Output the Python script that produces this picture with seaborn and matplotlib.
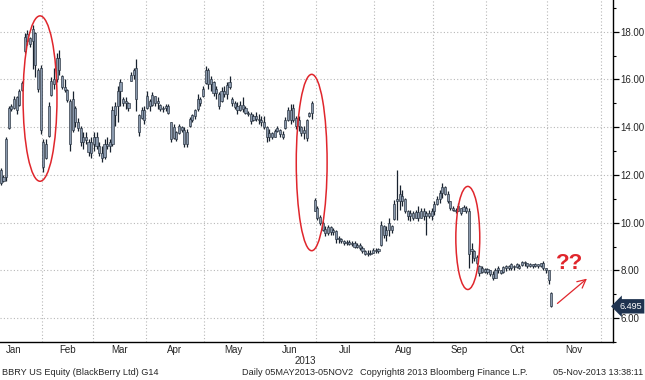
import numpy as np
import pandas as pd
import matplotlib
matplotlib.use("Agg")
import matplotlib.pyplot as plt
import matplotlib.transforms as mtransforms
from matplotlib.patches import Ellipse
import seaborn as sns

# daily bars (open, high, low, close), one list per month
jan_ohlc = [(12.20, 12.27, 11.56, 11.65), (11.75, 12.00, 11.70, 11.92), (11.90, 13.60, 11.75, 13.50),
            (13.95, 14.89, 13.93, 14.80), (14.90, 14.97, 14.68, 14.75), (14.80, 15.30, 14.76, 15.20),
            (15.25, 15.30, 14.55, 14.70), (14.95, 15.60, 14.90, 15.50), (15.55, 15.92, 15.50, 15.85),
            (17.20, 17.96, 17.13, 17.80), (17.60, 18.08, 17.46, 17.90), (17.75, 17.80, 17.38, 17.50),
            (17.60, 18.29, 16.42, 18.10), (17.95, 18.00, 16.10, 16.60), (16.40, 16.50, 15.47, 15.60),
            (16.50, 16.60, 13.70, 13.90)]
feb_ohlc = [(13.40, 13.51, 12.14, 12.35), (12.70, 13.51, 12.68, 13.30), (13.65, 15.05, 13.60, 14.90),
            (15.35, 16.10, 15.30, 15.95), (16.00, 16.50, 15.60, 15.80), (16.00, 17.10, 15.90, 16.90),
            (16.90, 17.25, 16.20, 16.40), (16.15, 16.20, 15.60, 15.70), (15.70, 16.00, 15.47, 15.55),
            (15.55, 15.60, 15.05, 15.15), (15.10, 15.20, 13.00, 13.30), (13.90, 15.50, 13.80, 15.20),
            (14.80, 14.90, 14.00, 14.20), (14.20, 14.40, 13.85, 13.95), (13.95, 14.05, 13.20, 13.40),
            (13.40, 13.80, 13.10, 13.60), (13.60, 13.80, 13.30, 13.45), (13.40, 13.50, 12.80, 12.95),
            (12.90, 13.60, 12.70, 13.40)]
mar_ohlc = [(13.30, 13.80, 13.00, 13.60), (13.60, 13.80, 13.10, 13.20), (13.20, 13.40, 12.80, 12.90),
            (12.90, 13.20, 12.55, 12.70), (12.75, 13.50, 12.68, 13.30), (13.30, 13.60, 13.10, 13.20),
            (13.20, 13.51, 12.98, 13.40), (13.30, 14.90, 13.20, 14.70), (14.50, 15.05, 14.05, 14.90),
            (14.90, 15.72, 14.22, 15.50), (15.50, 16.01, 14.89, 15.90), (15.20, 15.26, 14.89, 15.00),
            (15.00, 15.26, 14.76, 15.10), (15.00, 15.05, 14.68, 14.80), (15.95, 16.30, 15.92, 16.20),
            (16.20, 16.50, 16.00, 16.40), (16.50, 16.84, 14.68, 15.20), (14.50, 14.55, 13.64, 13.80),
            (14.40, 14.84, 14.35, 14.70), (14.70, 14.89, 14.14, 14.30)]
apr_ohlc = [(14.80, 15.51, 14.76, 15.30), (15.10, 15.18, 14.68, 14.90), (14.95, 15.47, 14.89, 15.35),
            (15.30, 15.30, 14.89, 15.00), (15.00, 15.26, 14.76, 15.10), (14.95, 14.97, 14.68, 14.75),
            (14.75, 14.89, 14.64, 14.80), (14.80, 14.97, 14.68, 14.90), (14.90, 14.97, 14.55, 14.60),
            (14.20, 14.22, 13.39, 13.50), (13.55, 14.14, 13.51, 14.00), (13.80, 13.85, 13.43, 13.50),
            (13.75, 14.14, 13.72, 14.05), (14.00, 14.05, 13.81, 13.90), (13.90, 14.01, 13.18, 13.30),
            (13.30, 13.93, 13.18, 13.80), (14.05, 14.43, 14.01, 14.35), (14.30, 14.55, 14.22, 14.50),
            (14.45, 14.76, 14.35, 14.70), (14.75, 15.38, 14.68, 15.20), (15.20, 15.26, 14.89, 15.00),
            (15.30, 15.72, 15.26, 15.60)]
may_ohlc = [(15.85, 16.55, 15.80, 16.40), (16.40, 16.50, 15.59, 15.80), (15.80, 16.13, 15.51, 16.00),
            (15.90, 15.92, 15.30, 15.45), (15.45, 15.72, 15.18, 15.60), (15.40, 15.47, 14.76, 14.90),
            (15.10, 15.67, 15.05, 15.50), (15.50, 15.72, 15.26, 15.40), (15.40, 15.88, 15.18, 15.75),
            (15.70, 16.13, 15.59, 15.90), (15.20, 15.26, 14.89, 15.00), (15.00, 15.09, 14.76, 14.85),
            (14.90, 15.05, 14.55, 14.70), (14.70, 15.09, 14.68, 14.95), (14.95, 15.26, 14.64, 14.75),
            (14.80, 14.89, 14.55, 14.60), (14.60, 14.68, 14.47, 14.55), (14.55, 14.64, 14.14, 14.25),
            (14.30, 14.55, 14.26, 14.45), (14.45, 14.64, 14.26, 14.35), (14.35, 14.55, 14.14, 14.30),
            (14.30, 14.47, 14.05, 14.20)]
jun_ohlc = [(14.20, 14.47, 13.93, 14.00), (14.00, 14.05, 13.39, 13.60), (13.60, 13.93, 13.43, 13.75),
            (13.75, 13.81, 13.51, 13.60), (13.60, 13.93, 13.60, 13.85), (13.85, 14.05, 13.81, 13.95),
            (13.90, 13.93, 13.60, 13.70), (13.70, 13.85, 13.51, 13.60), (13.95, 14.43, 13.93, 14.30),
            (14.30, 14.84, 14.26, 14.70), (14.70, 14.97, 14.14, 14.30), (14.30, 14.97, 14.22, 14.80),
            (14.40, 14.47, 13.93, 14.05), (14.05, 14.47, 13.85, 14.30), (14.00, 14.05, 13.64, 13.75),
            (13.75, 14.05, 13.51, 13.90), (14.30, 14.35, 13.43, 13.55), (14.45, 14.64, 14.43, 14.60),
            (14.60, 15.09, 14.35, 15.00), (10.95, 11.02, 10.48, 10.50)]
jul_ohlc = [(10.60, 10.69, 10.11, 10.20), (10.25, 10.32, 9.90, 10.00), (10.00, 10.07, 9.65, 9.70),
            (9.75, 9.86, 9.45, 9.55), (9.55, 9.90, 9.49, 9.80), (9.80, 9.86, 9.49, 9.60),
            (9.60, 9.78, 9.49, 9.70), (9.65, 9.70, 9.15, 9.30), (9.30, 9.45, 9.15, 9.35),
            (9.30, 9.36, 9.15, 9.25), (9.25, 9.28, 9.07, 9.15), (9.15, 9.28, 9.07, 9.20),
            (9.20, 9.28, 9.07, 9.10), (9.10, 9.24, 9.03, 9.15), (9.15, 9.24, 8.95, 9.00),
            (9.00, 9.15, 8.95, 9.05), (9.05, 9.15, 8.86, 8.95), (8.95, 9.03, 8.74, 8.80),
            (8.80, 8.86, 8.66, 8.70), (8.70, 8.86, 8.61, 8.75), (8.75, 8.86, 8.66, 8.70),
            (8.75, 8.95, 8.74, 8.85)]
aug_ohlc = [(8.85, 8.95, 8.74, 8.80), (8.80, 8.95, 8.74, 8.90), (9.05, 10.07, 9.03, 9.90),
            (9.85, 9.90, 9.36, 9.50), (9.50, 9.86, 9.24, 9.70), (9.70, 10.19, 9.45, 10.00),
            (9.85, 9.90, 9.57, 9.70), (10.15, 10.94, 10.11, 10.80), (10.90, 12.19, 10.11, 11.00),
            (11.20, 11.56, 10.52, 10.90), (10.90, 11.36, 10.69, 11.10), (11.00, 11.02, 10.40, 10.50),
            (10.50, 10.52, 10.11, 10.30), (10.30, 10.52, 10.07, 10.40), (10.40, 10.48, 10.11, 10.20),
            (10.20, 10.52, 10.19, 10.45), (10.45, 10.69, 10.07, 10.20), (10.20, 10.61, 10.19, 10.50),
            (10.50, 10.61, 10.11, 10.30), (10.30, 10.48, 9.49, 10.40), (10.40, 10.52, 10.19, 10.30),
            (10.30, 10.61, 10.11, 10.50)]
sep_ohlc = [(10.50, 10.90, 10.32, 10.80), (10.80, 11.11, 10.73, 11.00), (11.00, 11.36, 10.82, 11.25),
            (11.25, 11.65, 11.02, 11.50), (11.50, 11.52, 11.15, 11.20), (11.20, 11.31, 10.82, 10.90),
            (10.90, 10.90, 10.52, 10.60), (10.60, 10.69, 10.48, 10.55), (10.55, 10.61, 10.40, 10.50),
            (10.50, 10.82, 10.48, 10.70), (10.60, 10.61, 10.32, 10.40), (10.50, 10.73, 10.48, 10.65),
            (10.60, 10.69, 10.40, 10.50), (10.50, 10.61, 8.12, 8.70), (8.90, 9.15, 8.32, 8.80),
            (8.80, 8.86, 8.41, 8.50), (8.55, 8.66, 8.24, 8.30), (8.20, 8.24, 7.78, 7.90),
            (7.95, 8.20, 7.91, 8.10), (8.05, 8.12, 7.91, 7.95)]
oct_ohlc = [(7.95, 8.12, 7.83, 8.05), (8.00, 8.03, 7.78, 7.85), (7.85, 7.99, 7.58, 7.70),
            (7.70, 8.12, 7.70, 8.00), (8.00, 8.20, 7.91, 8.10), (8.00, 8.03, 7.83, 7.90),
            (7.95, 8.20, 7.91, 8.15), (8.10, 8.24, 7.99, 8.20), (8.20, 8.24, 8.03, 8.10),
            (8.10, 8.32, 8.03, 8.25), (8.20, 8.24, 8.03, 8.15), (8.15, 8.32, 8.12, 8.28),
            (8.20, 8.26, 8.05, 8.10), (8.22, 8.41, 8.20, 8.35), (8.35, 8.41, 8.20, 8.30),
            (8.30, 8.32, 8.12, 8.20), (8.20, 8.32, 8.14, 8.28), (8.25, 8.28, 8.12, 8.18),
            (8.18, 8.32, 8.14, 8.25), (8.25, 8.28, 8.12, 8.20), (8.20, 8.32, 8.16, 8.30),
            (8.30, 8.41, 8.03, 8.10), (8.10, 8.12, 7.91, 8.00)]
nov_ohlc = [(8.00, 8.03, 7.41, 7.60), (7.05, 7.08, 6.45, 6.50)]

first_day = "2013-01-09"
holidays = ["2013-01-01", "2013-01-21", "2013-02-18", "2013-03-29", "2013-05-27",
            "2013-07-04", "2013-09-02", "2013-11-28", "2013-12-25"]
month_names = ["Jan", "Feb", "Mar", "Apr", "May", "Jun", "Jul", "Aug", "Sep", "Oct", "Nov"]
price_ticks = [6, 8, 10, 12, 14, 16, 18]
last_price = 6.495

# trading-day calendar: the x axis counts sessions, not calendar days
calendar = pd.bdate_range("2013-01-02", "2013-12-31")
calendar = calendar[~calendar.isin(pd.to_datetime(holidays))]
pos = pd.Series(np.arange(len(calendar)), index=calendar)

rows = jan_ohlc + feb_ohlc + mar_ohlc + apr_ohlc + may_ohlc + jun_ohlc + jul_ohlc + aug_ohlc + sep_ohlc + oct_ohlc + nov_ohlc
bars = pd.DataFrame(rows, columns=["open", "high", "low", "close"])
bars["date"] = calendar[calendar >= first_day][:len(bars)]
bars["x"] = pos[bars["date"]].values
bars["body_lo"] = bars[["open", "close"]].min(axis=1)
bars["body_h"] = (bars["open"] - bars["close"]).abs().clip(lower=0.03)

month_idx = np.asarray(calendar.month)
starts = np.flatnonzero(np.diff(month_idx) != 0) + 1
bounds = np.r_[-0.5, starts - 0.5, len(calendar) - 0.5]
mids = (bounds[:-1] + bounds[1:]) / 2

sns.set_theme(style="white")
plt.rcParams["font.family"] = ["Liberation Sans", "DejaVu Sans"]

red = "#e0262c"
wick = "#18222f"
body = "#8a99ad"

fig = plt.figure(figsize=(6.45, 3.8), dpi=100)
ax = fig.add_axes([0.0, 0.1, 613 / 645, 0.9])

ax.vlines(bars["x"], bars["low"], bars["high"], color=wick, lw=0.9, zorder=3)
ax.bar(bars["x"], bars["body_h"], bottom=bars["body_lo"], width=0.8,
       color=body, edgecolor=wick, linewidth=0.4, zorder=4)

ax.set_xlim(4.7, 235.2)
ax.set_ylim(5.13, 19.33)

ax.set_xticks(bounds[1:12])
ax.set_xticklabels([])
ax.set_xticks(mids[:11], minor=True)
ax.set_xticklabels(month_names, minor=True, fontsize=7)
ax.tick_params(axis="x", which="major", direction="out", length=3, width=0.8, color="black")
ax.tick_params(axis="x", which="minor", length=0, pad=2.5)

ax.yaxis.tick_right()
ax.set_yticks(price_ticks)
ax.set_yticklabels([f"{v:.2f}" for v in price_ticks], fontsize=7)
ax.set_yticks(np.arange(5, 20, 2), minor=True)
ax.tick_params(axis="y", which="major", direction="out", length=4, width=0.9, color="black", pad=1.5)
ax.tick_params(axis="y", which="minor", direction="out", length=2.5, width=0.8, color="black")

ax.grid(True, which="major", linestyle=(0, (1, 2)), color="#b8b8b8", lw=0.8)
for side in ["left", "top"]:
    ax.spines[side].set_visible(False)
for side in ["right", "bottom"]:
    ax.spines[side].set_color("black")
    ax.spines[side].set_linewidth(1.0)

# highlighted drops
for cx, cy, w, h in [(19.75, 15.2, 12.75, 6.93), (121.9, 12.52, 11.6, 7.39), (180.6, 9.36, 9.0, 4.32)]:
    ax.add_patch(Ellipse((cx, cy), w, h, fill=False, ec=red, lw=1.1, zorder=5))

ax.text(218.8, 8.3, "??", color=red, fontsize=16, fontweight="bold", ha="center", va="center")
ax.annotate("", xy=(226.2, 7.73), xytext=(213.5, 6.54),
            arrowprops=dict(arrowstyle="->,head_length=0.5,head_width=0.25", color=red, lw=0.9))

trans = mtransforms.blended_transform_factory(ax.transAxes, ax.transData)
ax.text(1.0098, last_price, f"{last_price:.3f}", transform=trans, ha="left", va="center",
        color="white", fontsize=6.5, clip_on=False, zorder=6,
        bbox=dict(boxstyle="larrow,pad=0.3", fc="#1f3350", ec="none"))

ax.text(119.5, 0.05, "2013", transform=mtransforms.blended_transform_factory(ax.transData, fig.transFigure),
        ha="center", va="center", fontsize=7)

foot_y = 0.019
fig.text(0.003, foot_y, "BBRY US Equity (BlackBerry Ltd) G14", fontsize=6.6, ha="left", va="center")
fig.text(0.375, foot_y, "Daily 05MAY2013-05NOV2", fontsize=6.6, ha="left", va="center")
fig.text(0.558, foot_y, "Copyright8 2013 Bloomberg Finance L.P.", fontsize=6.6, ha="left", va="center")
fig.text(0.997, foot_y, "05-Nov-2013 13:38:11", fontsize=6.6, ha="right", va="center")

fig.savefig("out.png", dpi=100)
